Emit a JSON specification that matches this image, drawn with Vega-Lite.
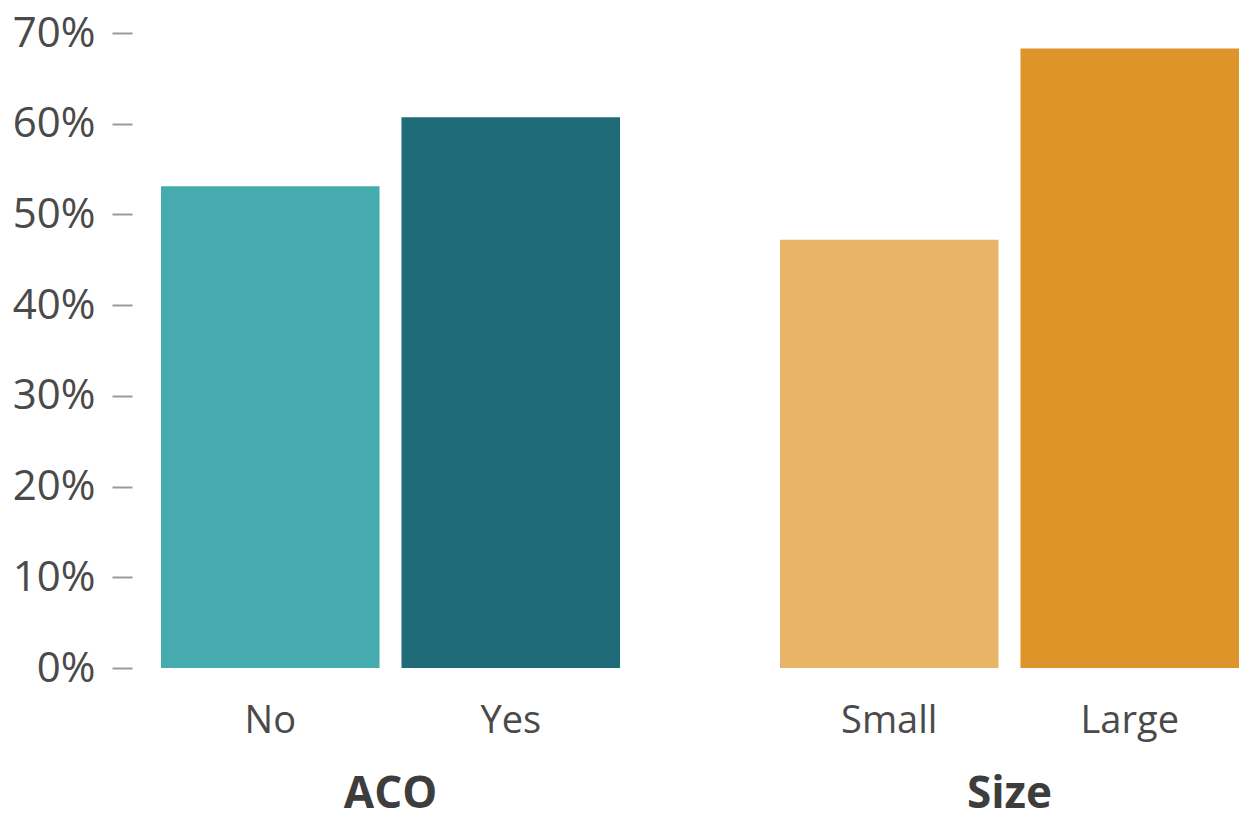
{
  "$schema": "https://vega.github.io/schema/vega-lite/v6.json",
  "background": "white",
  "padding": {"left": 12, "top": 12, "right": 5, "bottom": 5},
  "data": {"values": [
    {"group": "ACO", "cat": "No", "value": 0.531},
    {"group": "ACO", "cat": "Yes", "value": 0.607},
    {"group": "Size", "cat": "Small", "value": 0.472},
    {"group": "Size", "cat": "Large", "value": 0.683}
  ]},
  "spacing": 160,
  "facet": {
    "column": {
      "field": "group",
      "type": "nominal",
      "sort": ["ACO", "Size"],
      "title": null,
      "header": {
        "labelOrient": "bottom",
        "labelFont": "Open Sans",
        "labelFontSize": 44,
        "labelFontWeight": "bold",
        "labelColor": "#3d3d3d",
        "labelPadding": 33
      }
    }
  },
  "resolve": {"scale": {"x": "independent"}},
  "spec": {
    "width": 459,
    "height": 635,
    "mark": {"type": "bar"},
    "encoding": {
      "x": {
        "field": "cat",
        "type": "nominal",
        "sort": ["No", "Yes", "Small", "Large"],
        "scale": {"paddingInner": 0.0913, "paddingOuter": 0},
        "axis": {
          "title": null,
          "labelAngle": 0,
          "domain": false,
          "ticks": false,
          "tickSize": 0,
          "labelFont": "Open Sans",
          "labelFontSize": 38,
          "labelColor": "#4a4a4a",
          "labelPadding": 34
        }
      },
      "y": {
        "field": "value",
        "type": "quantitative",
        "scale": {"domain": [0, 0.7]},
        "axis": {
          "title": null,
          "values": [0, 0.1, 0.2, 0.3, 0.4, 0.5, 0.6, 0.7],
          "format": ".0%",
          "grid": false,
          "domain": false,
          "tickSize": 20,
          "tickWidth": 2,
          "tickColor": "#9a9a9a",
          "offset": 29,
          "labelPadding": 17,
          "labelFont": "Open Sans",
          "labelFontSize": 42,
          "labelColor": "#4a4a4a"
        }
      },
      "color": {
        "field": "cat",
        "type": "nominal",
        "scale": {
          "domain": ["No", "Yes", "Small", "Large"],
          "range": ["#45abaf", "#1f6b78", "#e8b468", "#de9429"]
        },
        "legend": null
      }
    }
  },
  "config": {"view": {"stroke": null}}
}
